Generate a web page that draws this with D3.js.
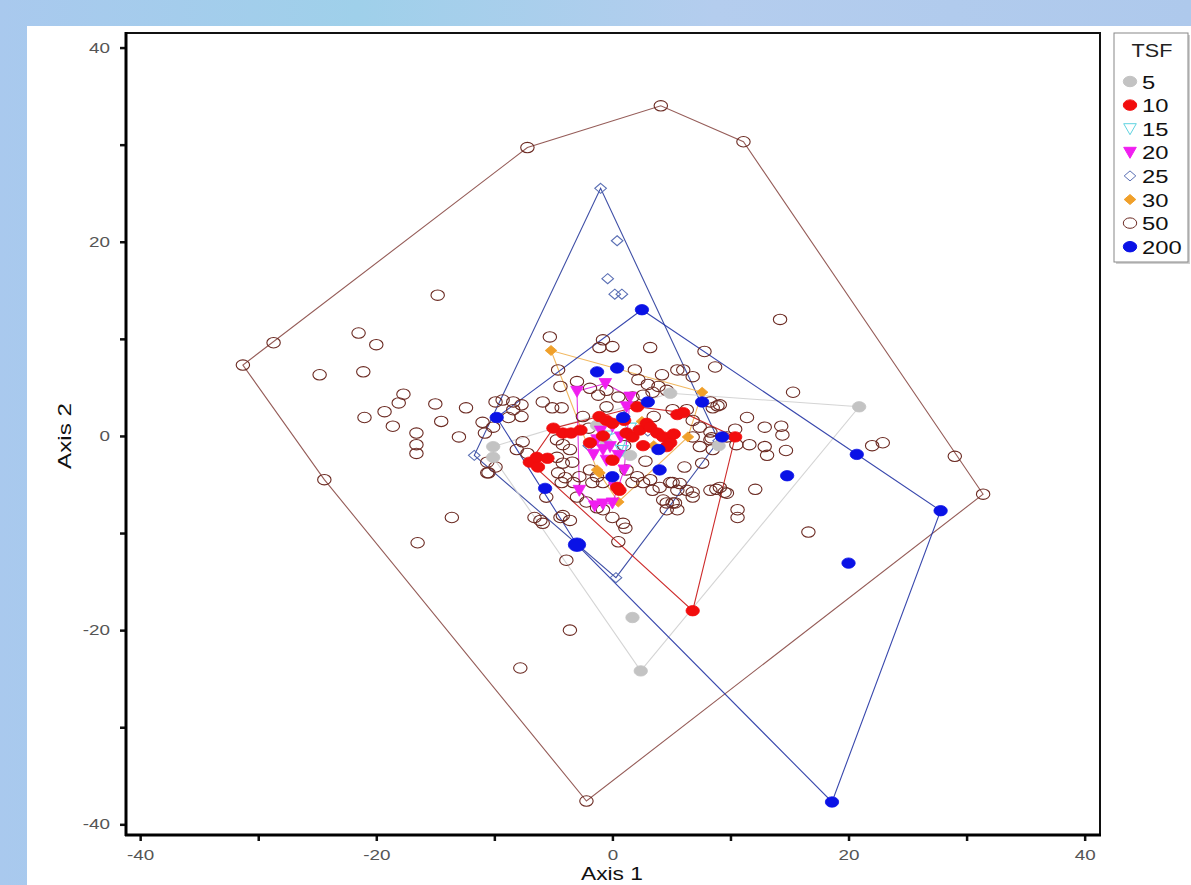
<!DOCTYPE html>
<html><head><meta charset="utf-8">
<script src="https://cdn.jsdelivr.net/npm/d3@7"></script>
<style>
html,body{margin:0;padding:0;}
body{width:1191px;height:885px;overflow:hidden;background:linear-gradient(90deg,#a9c9ee 0%,#9fd0ea 30%,#b4cdee 60%,#aec9ec 100%);}
svg{display:block;}
text{font-family:"Liberation Sans",Arial,sans-serif;}
</style></head><body>
<svg id="c" width="1191" height="885"></svg>
<script>
// ---- data (Axis 1, Axis 2) ----
const groups = ["5","10","15","20","25","30","50","200"];
const tsf5 = [[20.9,3.0],[2.4,-24.2],[1.7,-18.7],[-10.1,-1.1],[-10.1,-2.2],[4.9,4.4],[9.0,-1.0],[-1.3,1.1],[1.5,-2.0],[-0.5,-0.8]];
const tsf10 = [[6.8,-18.0],[10.4,-0.1],[-7.0,-2.7],[-6.4,-2.2],[-5.5,-2.3],[-6.3,-3.2],[-5.0,0.8],[-4.2,0.3],[-3.5,0.3],[-2.7,0.6],
  [-1.1,2.0],[-0.5,1.6],[0,1.3],[-1.9,-0.7],[1.2,0.3],[1.7,-0.1],[2.3,0.6],[2.9,1.3],[2.1,3.0],[3.2,0.9],[3.8,0.3],[4.3,-0.1],
  [4.9,-0.7],[5.5,2.2],[0,-2.5],[0.4,-5.3],[0.6,-5.6],[4.6,-1.1],[6.0,2.4],[1.0,1.6],[-0.8,0.0],[2.6,-1.0],[5.2,0.2]];
const tsf15 = [[-0.5,0.0],[0.8,-1.5],[1.5,0.8]];
const tsf20 = [[-3.0,4.6],[-0.6,5.4],[-2.8,-5.6],[-0.8,-7.0],[0,-6.9],[0.2,-5.3],[-1.3,-0.4],[-0.8,-1.4],[-0.2,-1.1],[0.7,-0.1],
  [1.2,3.0],[1.5,4.0],[-0.5,-2.5],[0.5,-2.0],[0,1.0],[-1.0,0.5],[-1.6,-1.9],[1.0,-3.5],[-1.5,-7.2]];
const tsf25 = [[-1.0,25.5],[0.4,20.1],[-0.4,16.2],[0.2,14.6],[0.8,14.6],[-11.7,-2.0],[0.3,-14.6],[9.0,-0.5],[1.0,2.0],[-2.0,-1.0],[3.0,0.5]];
const tsf30 = [[-5.2,8.8],[7.6,4.5],[6.4,-0.1],[-1.3,-3.5],[0.5,-6.8],[-1.1,-3.8],[2.5,1.5],[3.5,-1.0]];
const tsf50 = [[-31.3,7.3],[-28.7,9.6],[-7.2,29.7],[4.1,34.0],[11.1,30.3],[29.0,-2.1],[31.4,-6.0],[-2.2,-37.6],[-24.4,-4.5],
  [-14.8,14.5],[-21.5,10.6],[-20.0,9.4],[-24.8,6.3],[-21.1,6.6],[-17.7,4.3],[-18.1,3.4],[-19.3,2.5],[-21.0,1.9],[-18.6,1.0],
  [-16.6,0.3],[-16.6,-0.9],[-16.6,-1.8],[-15.0,3.3],[-14.5,1.5],[-12.4,2.9],[-13.0,-0.1],[-13.6,-8.4],[-16.5,-11.0],
  [14.2,12.0],[7.8,8.7],[8.7,7.1],[5.5,6.8],[15.3,4.5],[8.9,3.1],[11.4,1.9],[12.9,0.9],[14.3,1.0],[14.4,0.1],[10.4,0.7],
  [11.6,-0.9],[12.9,-1.1],[13.1,-2.0],[14.7,-1.5],[8.3,0.4],[8.4,-0.2],[7.6,-2.8],[6.1,-3.2],[22.0,-1.0],[22.9,-0.7],
  [12.1,-5.5],[8.8,-5.5],[9.5,-5.8],[10.6,-7.6],[10.6,-8.4],[16.6,-9.9],[6.8,-5.8],[5.1,-4.8],[5.7,-4.9],[4.6,-6.9],[5.3,-6.9],
  [-10.5,-3.8],[-6.1,-8.7],[-4.2,-8.2],[1.1,-9.5],[0.5,-10.9],[-3.9,-12.8],[-3.6,-20.0],[-7.8,-23.9],[-4.3,-4.8],[-5.6,-6.3],
  [-3.0,-6.3],[-2.2,-6.8],[-1.3,-7.4],
  [-5.3,10.2],[-0.8,9.9],[0,9.2],[-1.1,9.1],[3.2,9.1],[-4.6,6.8],[-3.0,5.6],[1.9,6.8],[4.2,6.3],[2.2,5.8],[3.0,5.3],[3.9,5.1],
  [-4.4,5.1],[-1.9,4.9],[-1.2,4.2],[-0.5,4.7],[0.5,4.0],[1.7,4.0],[2.6,4.2],[3.4,4.5],[4.6,4.7],[-9.9,3.5],[-9.3,3.7],[-8.4,3.5],
  [-7.7,3.2],[-5.9,3.5],[-5.1,2.9],[-4.3,2.9],[-8.4,2.7],[-7.7,2.0],[-8.8,1.9],[-11.0,1.4],[-10.1,0.9],[-10.8,0.3],[8.3,3.5],
  [8.5,2.9],[9.1,3.2],[5.1,2.7],[6.3,2.7],[6.8,1.6],[7.4,0.9],[6.8,-0.1],[7.4,-1.1],[8.3,-0.4],[8.5,-1.4],[9.7,-0.1],[10.5,-0.9],
  [-4.7,-0.4],[-4.2,-0.9],[-3.6,-1.4],[-4.7,-2.2],[-4.2,-2.8],[-3.4,-2.7],[-7.6,-0.6],[-8.1,-1.4],[-7.2,-1.8],[-10.6,-2.7],
  [-9.9,-3.2],[-10.6,-3.8],[-4.6,-3.8],[-4.0,-4.3],[-3.3,-4.8],[-2.8,-4.2],[-1.9,-3.5],[-1.3,-4.2],[-1.7,-4.8],[-0.8,-4.8],
  [1.2,-3.5],[2.1,-4.2],[1.7,-4.8],[2.6,-4.8],[3.2,-4.5],[4.0,-5.3],[3.4,-5.6],[4.9,-4.8],[5.5,-5.6],[6.3,-5.6],[6.8,-6.3],
  [4.3,-6.6],[5.1,-6.9],[4.6,-7.6],[5.5,-7.6],[-6.6,-8.4],[-5.9,-9.0],[-4.4,-8.4],[-3.6,-8.7],[-0.8,-7.6],[0,-8.4],[0.9,-9.0],
  [9.1,-5.3],[9.7,-5.9],[8.3,-5.6],[6.0,6.8],[6.8,6.1],[-2.5,2.0],[-2.0,0.8],[1.0,-1.0],[2.8,-2.6],[-0.5,3.0],[3.5,2.0]];
const tsf200 = [[2.5,13.0],[-9.8,1.9],[-3.0,-11.2],[18.6,-37.7],[27.8,-7.7],[20.7,-1.9],[-1.3,6.6],[0.4,7.0],[0.9,1.9],
  [-5.7,-5.4],[4.0,-3.5],[0,-4.2],[7.6,3.5],[9.3,-0.1],[3.0,3.5],[14.8,-4.1],[20.0,-13.1],[3.9,-1.4]];
const bigPoint = [-3.0,-11.2];
const xTicks = [-40,-30,-20,-10,0,10,20,30,40];
const yTicks = [-40,-30,-20,-10,0,10,20,30,40];
const xLabel = "Axis 1", yLabel = "Axis 2", legendTitle = "TSF";

// ---- styles ----
const style = {
  "5":  {data:tsf5,  shape:"circle",   fill:"#c3c3c3", stroke:"#c3c3c3", hull:"#cfcfcf"},
  "10": {data:tsf10, shape:"circle",   fill:"#f20d0d", stroke:"#f20d0d", hull:"#c81414"},
  "15": {data:tsf15, shape:"tri",      fill:"none",    stroke:"#5fd3e0", hull:"#5fd3e0"},
  "20": {data:tsf20, shape:"tri",      fill:"#f01ef0", stroke:"#f01ef0", hull:"#e020e0"},
  "25": {data:tsf25, shape:"diamond",  fill:"none",    stroke:"#5a6fb4", hull:"#2a3c9c"},
  "30": {data:tsf30, shape:"diamond",  fill:"#f0a02a", stroke:"#f0a02a", hull:"#f0b050"},
  "50": {data:tsf50, shape:"circle",   fill:"none",    stroke:"#6b2a22", hull:"#8a4a46"},
  "200":{data:tsf200,shape:"circle",   fill:"#0a12e6", stroke:"#0a12e6", hull:"#2434a4"}
};
const drawOrder = ["50","25","5","15","30","20","10","200"];
const SX = 1.3; // horizontal stretch of the reference's text

const svg = d3.select("#c");
svg.append("rect").attr("x",27).attr("y",26).attr("width",1164).attr("height",859).attr("fill","#fff");

const x = d3.scaleLinear().domain([-41.2,41.3]).range([126,1100]);
const y = d3.scaleLinear().domain([-41.1,41.5]).range([835,33]);

svg.append("rect").attr("x",126).attr("y",33).attr("width",974).attr("height",802)
  .attr("fill","none").attr("stroke","#111").attr("stroke-width",2);

svg.append("defs").append("clipPath").attr("id","pc")
  .append("rect").attr("x",126).attr("y",33).attr("width",974).attr("height",802);
const plot = svg.append("g").attr("clip-path","url(#pc)");

function symbolPath(shape, cx, cy, big){
  const s = big ? 1.3 : 1;
  if(shape==="circle"){
    const rx=6.7*s, ry=5.2*s;
    return `M${cx-rx},${cy}A${rx},${ry} 0 1,0 ${cx+rx},${cy}A${rx},${ry} 0 1,0 ${cx-rx},${cy}Z`;
  }
  if(shape==="tri"){
    const w=6.3*s,h=5*s;
    return `M${cx-w},${cy-h}L${cx+w},${cy-h}L${cx},${cy+h+1}Z`;
  }
  if(shape==="diamond"){
    const w=5.8*s,h=5*s;
    return `M${cx},${cy-h}L${cx+w},${cy}L${cx},${cy+h}L${cx-w},${cy}Z`;
  }
}

drawOrder.forEach(g=>{
  const st = style[g];
  const pts = st.data.map(d=>[x(d[0]),y(d[1])]);
  const hull = d3.polygonHull(pts);
  if(hull){
    plot.append("path").attr("d","M"+hull.join("L")+"Z")
      .attr("fill","none").attr("stroke",st.hull).attr("stroke-width",1.1).attr("opacity",0.9);
  }
});
drawOrder.forEach(g=>{
  const st = style[g];
  plot.append("g").selectAll("path").data(st.data).join("path")
    .attr("d",d=>symbolPath(st.shape,x(d[0]),y(d[1]), g==="200" && d[0]===bigPoint[0] && d[1]===bigPoint[1]))
    .attr("fill",st.fill).attr("stroke",st.stroke)
    .attr("stroke-width", st.fill==="none"?1.1:0.8);
});

// axes
const xAxis = d3.axisBottom(x).tickValues(xTicks).tickSize(6).tickPadding(9)
  .tickFormat(d=> d%20===0 ? d : "");
const gx = svg.append("g").attr("transform","translate(0,835)").call(xAxis);
gx.select(".domain").remove();
gx.selectAll("line").attr("stroke","#111").attr("stroke-width",2.5);
gx.selectAll("text").attr("fill","#555").attr("font-size",14.5)
  .attr("font-family","Liberation Sans, Arial, sans-serif")
  .attr("transform",`scale(${SX},1)`);

const yAxis = d3.axisLeft(y).tickValues(yTicks).tickSize(6).tickPadding(10)
  .tickFormat(d=> d%20===0 ? d : "");
const gy = svg.append("g").attr("transform","translate(126,0)").call(yAxis);
gy.select(".domain").remove();
gy.selectAll("line").attr("stroke","#111").attr("stroke-width",2.5);
gy.selectAll("text").attr("fill","#555").attr("font-size",14.5)
  .attr("font-family","Liberation Sans, Arial, sans-serif")
  .attr("x",-16/SX).attr("transform",`scale(${SX},1)`);

svg.append("line").attr("x1",126).attr("x2",126).attr("y1",32).attr("y2",836).attr("stroke","#000").attr("stroke-width",3);
svg.append("line").attr("x1",125).attr("x2",1101).attr("y1",835).attr("y2",835).attr("stroke","#000").attr("stroke-width",3);

svg.append("text").attr("x",612).attr("y",880).attr("text-anchor","middle")
  .attr("font-size",18).attr("fill","#111").attr("textLength",62).attr("lengthAdjust","spacingAndGlyphs").text(xLabel);
svg.append("text").attr("transform","translate(71,436) rotate(-90)").attr("text-anchor","middle")
  .attr("font-size",19).attr("fill","#111").attr("textLength",66).attr("lengthAdjust","spacingAndGlyphs").text(yLabel);

// legend
const lg = svg.append("g");
lg.append("rect").attr("x",1116).attr("y",35).attr("width",74).attr("height",229).attr("fill","#d0d0d0");
lg.append("rect").attr("x",1114).attr("y",33).attr("width",74).attr("height",229)
  .attr("fill","#fff").attr("stroke","#888").attr("stroke-width",1);
lg.append("text").attr("transform",`translate(1152,57) scale(1.2,1)`).attr("text-anchor","middle").attr("font-size",18)
  .attr("fill","#222").text(legendTitle);
groups.forEach((g,i)=>{
  const cy = 81.5 + i*23.6;
  const st = style[g];
  lg.append("path").attr("d",symbolPath(st.shape,1130,cy,false))
    .attr("fill",st.fill).attr("stroke",st.stroke).attr("stroke-width",1);
  lg.append("text").attr("transform",`translate(1142,${cy+7}) scale(1.25,1)`).attr("font-size",19).attr("fill","#111").text(g);
});
</script>
</body></html>
